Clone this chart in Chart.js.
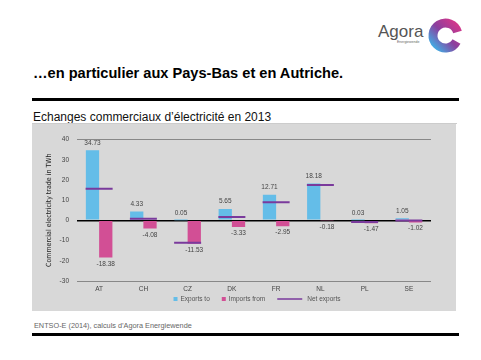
<!DOCTYPE html>
<html>
<head>
<meta charset="utf-8">
<script src="https://cdn.jsdelivr.net/npm/chart.js@4/dist/chart.umd.min.js"></script>
<style>
  body { margin: 0; width: 481px; height: 360px; background: #fff; position: relative; overflow: hidden; font-family: "Liberation Sans", Arial, sans-serif; }
  .abs { position: absolute; }
  #title { left: 33px; top: 65px; font-weight: bold; font-size: 14.6px; color: #000; letter-spacing: 0px; white-space: nowrap; }
  #rule1 { left: 32px; top: 98px; width: 427px; height: 3px; background: #000; }
  #subtitle { left: 33px; top: 110px; font-size: 12px; color: #111; white-space: nowrap; }
  #rule2 { left: 32px; top: 123px; width: 425px; height: 1px; background: #ccc; }
  #panel { left: 32px; top: 124px; width: 424px; height: 187px; background: #d8d8d8; }
  #source { left: 34px; top: 321px; font-size: 7.3px; color: #666; white-space: nowrap; }
  #rule3 { left: 32px; top: 333px; width: 427px; height: 3px; background: #000; }
  #agora { left: 378px; top: 22px; font-size: 17px; color: #555; }
  #ew { left: 397px; top: 40px; font-size: 3.5px; color: #666; }
</style>
</head>
<body>
<div id="agora" class="abs">Agora</div>
<div id="ew" class="abs">Energiewende</div>
<svg class="abs" style="left:426px;top:14px" width="40" height="42" viewBox="0 0 40 42">
  <defs>
    <linearGradient id="g" x1="1" y1="0" x2="0" y2="1">
      <stop offset="0" stop-color="#d6368a"/>
      <stop offset="0.5" stop-color="#8a3f9e"/>
      <stop offset="1" stop-color="#3fb0e6"/>
    </linearGradient>
  </defs>
  <path d="M 31.5 18 A 12.5 12.5 0 1 0 30.5 27.5" fill="none" stroke="url(#g)" stroke-width="9"/>
</svg>
<div id="title" class="abs">…en particulier aux Pays-Bas et en Autriche.</div>
<div id="rule1" class="abs"></div>
<div id="subtitle" class="abs">Echanges commerciaux d’électricité en 2013</div>
<div id="rule2" class="abs"></div>
<div id="panel" class="abs"><canvas id="myChart" width="424" height="187"></canvas></div>
<div id="source" class="abs">ENTSO-E (2014), calculs d’Agora Energiewende</div>
<div id="rule3" class="abs"></div>
<script>
const countries = ['AT', 'CH', 'CZ', 'DK', 'FR', 'NL', 'PL', 'SE'];
const exportsTo = [34.73, 4.33, 0.05, 5.65, 12.71, 18.18, 0.03, 1.05];
const importsFrom = [-18.38, -4.08, -11.53, -3.33, -2.95, -0.18, -1.47, -1.02];
const netExports = [15.6, 0.8, -11.1, 1.7, 8.9, 17.5, -0.8, -0.1];
const yTicks = [40, 30, 20, 10, 0, -10, -20, -30];

const seriesNames = ['Exports to', 'Imports from', 'Net exports'];
const blue = '#64bde8';
const pink = '#d24f95';
const purple = '#7a3a9c';
const smallFont = { family: 'Liberation Sans', size: 6.5 };

// values over / under the bars
const valueLabels = {
    id: 'valueLabels',
    afterDatasetsDraw(chart) {
        const ctx = chart.ctx;
        ctx.save();
        ctx.font = '6.5px "Liberation Sans"';
        ctx.fillStyle = '#444';
        ctx.textAlign = 'center';
        [0, 1].forEach(i => {
            const meta = chart.getDatasetMeta(i);
            meta.data.forEach((bar, j) => {
                const v = chart.data.datasets[i].data[j];
                if (i === 0) {
                    ctx.textBaseline = 'bottom';
                    ctx.fillText(v.toFixed(2), bar.x, bar.y - 4);
                } else {
                    ctx.textBaseline = 'top';
                    ctx.fillText(v.toFixed(2), bar.x, bar.y + 3);
                }
            });
        });
        ctx.restore();
    }
};

// legend drawn by hand so the net line gets a long stroke
const bottomLegend = {
    id: 'bottomLegend',
    afterDraw(chart) {
        const ctx = chart.ctx;
        const area = chart.chartArea;
        const y = 175;
        ctx.save();
        ctx.font = '6.5px "Liberation Sans"';
        ctx.textBaseline = 'middle';
        const items = chart.data.datasets.map(ds => ({
            text: ds.label,
            color: ds.type === 'line' ? ds.borderColor : ds.backgroundColor,
            line: ds.type === 'line',
        }));
        const widths = items.map(it => (it.line ? 30 : 7) + ctx.measureText(it.text).width);
        const gap = 12;
        const total = widths.reduce((a, b) => a + b, 0) + gap * (items.length - 1);
        let x = (area.left + area.right) / 2 - total / 2 + 3;
        items.forEach((it, k) => {
            if (it.line) {
                ctx.strokeStyle = it.color;
                ctx.lineWidth = 1.5;
                ctx.beginPath();
                ctx.moveTo(x, y);
                ctx.lineTo(x + 25, y);
                ctx.stroke();
                ctx.fillStyle = '#555';
                ctx.fillText(it.text, x + 30, y);
            } else {
                ctx.fillStyle = it.color;
                ctx.fillRect(x, y - 2, 4, 4);
                ctx.fillStyle = '#555';
                ctx.fillText(it.text, x + 7, y);
            }
            x += widths[k] + gap;
        });
        ctx.restore();
    }
};

const ctx = document.getElementById('myChart').getContext('2d');
const myChart = new Chart(ctx, {
    type: 'bar',
    data: {
        labels: countries,
        datasets: [{
            label: seriesNames[0],
            data: exportsTo,
            backgroundColor: blue,
            borderWidth: 0,
            order: 1
        }, {
            label: seriesNames[1],
            data: importsFrom,
            backgroundColor: pink,
            borderWidth: 0,
            order: 1
        }, {
            type: 'line',
            label: seriesNames[2],
            data: netExports,
            borderColor: purple,
            backgroundColor: purple,
            showLine: false,
            pointStyle: 'line',
            pointRadius: 13.5,
            pointHoverRadius: 13.5,
            pointBorderWidth: 2,
            order: 0
        }]
    },
    options: {
        responsive: false,
        animation: false,
        layout: { padding: { left: 0, right: 25, top: 8, bottom: 18 } },
        plugins: {
            legend: { display: false },
            tooltip: { enabled: false }
        },
        datasets: {
            bar: { categoryPercentage: 0.6, barPercentage: 1.0 }
        },
        scales: {
            x: {
                grid: { display: false, drawTicks: false },
                border: { display: false },
                ticks: { color: '#444', font: smallFont, padding: 4 },
                afterFit(scale) { scale.height = 12; }
            },
            y: {
                min: -30,
                max: 40,
                afterBuildTicks(scale) { scale.ticks = yTicks.map(v => ({ value: v })); },
                grid: {
                    drawTicks: false,
                    color: c => c.tick.value === 0 ? '#000' : (c.tick.value === 40 || c.tick.value === -30 ? '#888' : 'rgba(0,0,0,0)'),
                    lineWidth: c => c.tick.value === 0 ? 1.5 : 1
                },
                border: { display: false },
                ticks: { color: '#444', font: smallFont, padding: 8 },
                title: {
                    display: true,
                    text: 'Commercial electricity trade in TWh',
                    color: '#222',
                    font: { family: '"DejaVu Sans Condensed", "Liberation Sans"', size: 7 },
                    padding: { top: 13, bottom: 0 }
                },
                afterFit(scale) { scale.width = 45; }
            }
        }
    },
    plugins: [valueLabels, bottomLegend]
});
</script>
</body>
</html>
